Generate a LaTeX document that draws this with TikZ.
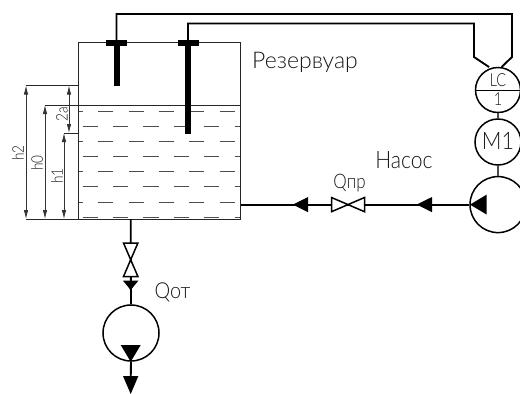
\documentclass[tikz,border=0pt]{standalone}
\usepackage{fontspec}
\setmainfont{Lato Light}
\usetikzlibrary{arrows.meta,calc}
\tikzset{
  x=1pt,y=-1pt,
  pipe/.style={line width=1.9pt,black,line join=miter},
  thinl/.style={line width=0.9pt,black!85},
  instr/.style={circle,draw=black,line width=1.5pt,inner sep=0pt,fill=white},
  dimline/.style={line width=0.8pt,black!80,{Latex[length=9pt,width=4.5pt]}-{Latex[length=9pt,width=4.5pt]}},
  fillt/.style={fill=black,draw=none},
  lbl/.style={inner sep=0pt,text=black!90},
  wdash/.style={line width=1pt,black!70}
}
\begin{document}
\begin{tikzpicture}
\clip (0,0) rectangle (520,394);
\fill[white] (0,0) rectangle (520,394);
% coordinates
\coordinate (tl) at (78.5,42.5);
\coordinate (tr) at (240.5,42.5);
\coordinate (bl) at (78.5,219);
\coordinate (br) at (240.5,219);
\coordinate (wl) at (78.5,105);
\coordinate (wr) at (240.5,105);
% water dashes
\foreach \y/\o in {111/0,126.5/1,141.5/0,156/1,171.5/0,186.5/1,202/0,217.5/1}{
  \ifnum\o=0
    \draw[wdash] (78.5,\y) -- (83,\y);
    \foreach \i in {0,...,4}{\draw[wdash] ({98.3+30.3*\i},\y) -- ({113.3+30.3*\i},\y);}
  \else
    \foreach \i in {0,...,4}{\draw[wdash] ({82.7+30.3*\i},\y) -- ({98+30.3*\i},\y);}
    \draw[wdash] (234.5,\y) -- (240.5,\y);
  \fi
}
% tank
\draw[thinl] (wl) -- (wr);
\draw[line width=1pt,black!85] (wr) -- (br) -- (bl) -- (tl) -- (tr) -- (wr);
% instruments
\node[instr,minimum size=45pt] (lc) at (498,90) {};
\node[instr,minimum size=46pt] (m1) at (498,142) {};
\node[instr,minimum size=56pt] (pump) at (498,204.6) {};
\node[instr,minimum size=56pt] (pump2) at (131,333) {};
% signal lines
\coordinate (s1) at (116.5,42.5);
\coordinate (s2) at (188,42.5);
\coordinate (c1) at (501.6,67);
\coordinate (c2) at (489,67);
\draw[pipe] (s1) -- (116.5,14) -- (512,14) -- (512,57) -- (c1);
\draw[pipe] (s2) -- (188,23.5) -- (474,23.5) -- (474,57) -- (c2);
% sensors
\fill (106,40) rectangle (127,45.5);
\fill (114,42) rectangle (119.5,86);
\fill (178,40) rectangle (198.5,45.5);
\fill (185,42) rectangle (191,133.5);
% LC
\draw[line width=0.9pt] (lc.west) -- (520,90);
\node[lbl] at (498,80.5) {\fontsize{18}{18}\selectfont\scalebox{0.8}[1]{LC}};
\node[lbl] at (498,99.5) {\fontsize{18}{18}\selectfont\scalebox{0.8}[1]{1}};
\node[lbl] at (498,141) {\fontsize{24}{24}\selectfont\scalebox{0.9}[1]{M1}};
\draw[line width=1.2pt,black!70] (lc) -- (m1);
\draw[line width=1.2pt,black!70] (m1) -- (pump);
% horizontal pipe
\coordinate (tankout) at (240.5,204.6);
\coordinate (v1) at (348,204.6);
\draw[pipe] (pump.west) -- (tankout);
\fill[fillt] (470,204.6) -- (486.7,194.6) -- (486.7,214.6) -- cycle;
\fill[fillt] (416.7,204.6) -- (432,197) -- (432,212.2) -- cycle;
\fill[fillt] (293,204.6) -- (308,197) -- (308,212.2) -- cycle;
\draw[line width=1.5pt,fill=white,line join=miter] (331.5,197.5) -- (364.5,211.7) -- (364.5,197.5) -- (331.5,211.7) -- cycle;
% bottom pipe
\coordinate (tankdown) at (130.7,219);
\coordinate (v2) at (130.7,260);
\draw[pipe] (tankdown) -- (pump2.north);
\draw[line width=1.5pt,fill=white,line join=miter] (123.5,243) -- (137.9,276.5) -- (123.5,276.5) -- (137.9,243) -- cycle;
\fill[fillt] (130.7,290) -- (123,280.7) -- (138.4,280.7) -- cycle;
\fill[fillt] (130.7,361.7) -- (120.7,345) -- (140.7,345) -- cycle;
\coordinate (outend) at (130.7,394);
\draw[pipe] (pump2.south) -- (130.7,380);
\fill[fillt] (outend) -- (123,376) -- (138.4,376) -- cycle;
% dimensions
\draw[thinl] (26,85.5) -- (79,85.5);
\draw[thinl] (45,105) -- (79,105);
\draw[thinl] (64,133) -- (79,133);
\draw[thinl] (26,219) -- (79,219);
\draw[dimline] (26,85.5) -- (26,219);
\draw[dimline] (45,105) -- (45,219);
\draw[dimline] (64,133) -- (64,219);
\draw[dimline] (69,85.5) -- (69,133);
% labels
\newcommand{\cad}[2]{\fontsize{#1}{#1}\selectfont #2}
\node[lbl] at (305,62) {\cad{23}{Резервуар}};
\node[lbl] at (404,160) {\cad{24}{\scalebox{0.88}[1]{Насос}}};
\node[lbl] at (349.5,183) {\cad{20}{\scalebox{0.85}[1]{Qпр}}};
\node[lbl] at (172.5,292) {\cad{22}{\scalebox{0.9}[1]{Qот}}};
\node[lbl,rotate=90] at (18,153) {\cad{16}{\scalebox{0.85}[1]{h2}}};
\node[lbl,rotate=90] at (37,163) {\cad{16}{\scalebox{0.85}[1]{h0}}};
\node[lbl,rotate=90] at (57,176) {\cad{16}{\scalebox{0.85}[1]{h1}}};
\node[lbl,rotate=90] at (62,114) {\cad{16}{\scalebox{0.85}[1]{2a}}};
\end{tikzpicture}
\end{document}
